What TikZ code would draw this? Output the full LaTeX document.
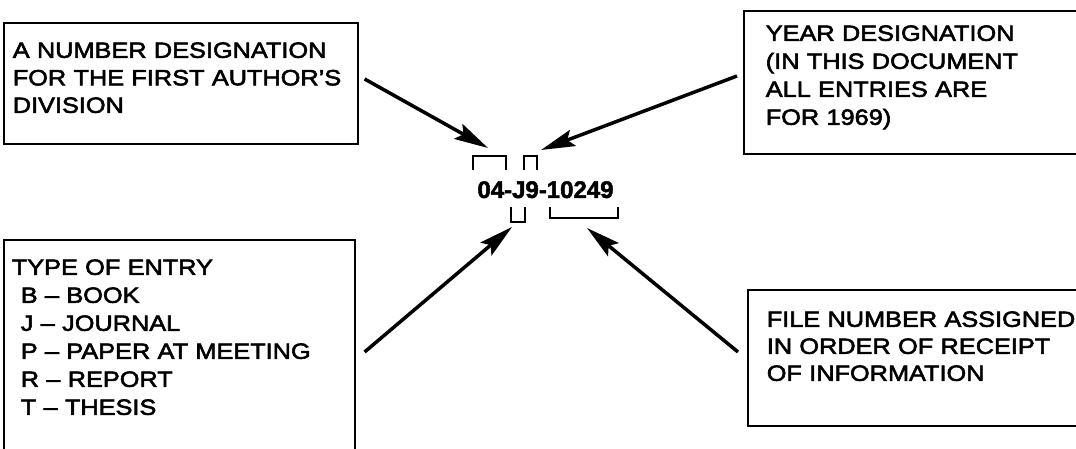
\documentclass[tikz,border=0pt]{standalone}
\usepackage{fontspec}
\setmainfont{Liberation Sans}[FakeStretch=1.15, FakeBold=2.6]
\newfontfamily\codefont{Liberation Sans}[FakeBold=2]
\usetikzlibrary{arrows.meta}

\begin{document}
\begin{tikzpicture}[
  x=1pt, y=-1pt,
  legend/.style={draw, line width=1.6pt, anchor=north west, align=left, text height=15pt, font=\fontsize{22}{28}\selectfont},
  idcode/.style={font=\codefont\bfseries\fontsize{24}{24}\selectfont, inner sep=0pt, anchor=base},
  bracket/.style={line width=1.8pt},
  pointer/.style={-{Stealth[length=34pt, width=17pt, inset=6pt]}, line width=3.5pt},
]
\useasboundingbox (0,0) rectangle (1076,449);
\clip (0,0) rectangle (1076,449);

\node[legend, inner xsep=9pt, inner ysep=20pt, text width=336pt, text depth=66pt, font=\fontsize{22}{27.5}\selectfont] (numbox) at (3,22) {A NUMBER DESIGNATION\\FOR THE FIRST AUTHOR'S\\DIVISION};
\node[legend, inner xsep=22pt, inner ysep=15pt, text width=320pt, text depth=98pt] (yearbox) at (743,10) {YEAR DESIGNATION\\(IN THIS DOCUMENT\\ALL ENTRIES ARE\\FOR 1969)};
\node[legend, inner xsep=8pt, inner ysep=20pt, text width=335pt, text depth=200pt] (typebox) at (3,239) {TYPE OF ENTRY\\
  \hspace*{9pt}B -- BOOK\\
  \hspace*{9pt}J -- JOURNAL\\
  \hspace*{9pt}P -- PAPER AT MEETING\\
  \hspace*{9pt}R -- REPORT\\
  \hspace*{9pt}T -- THESIS};
\node[legend, inner xsep=19pt, inner ysep=22pt, text width=320pt, text depth=77pt, font=\fontsize{22}{27}\selectfont] (filebox) at (747,289) {FILE NUMBER ASSIGNED\\IN ORDER OF RECEIPT\\OF INFORMATION};

\node[idcode] (code) at (545.5,198) {04-J9-10249};

\draw[bracket] (473,170) |- (506,156) -- (506,170);
\draw[bracket] (524,170) |- (537,156) -- (537,170);
\draw[bracket] (511,207) |- (525,222) -- (525,207);
\draw[bracket] (550,207) |- (618,218) -- (618,207);

\coordinate (divtip) at (488,148);
\coordinate (yeartip) at (541,150);
\coordinate (typetip) at (512,227);
\coordinate (filetip) at (587,228);

\draw[pointer] ([xshift=6pt,yshift=-57pt]numbox.north east) -- (divtip);
\draw[pointer] ([xshift=-6pt,yshift=-66pt]yearbox.north west) -- (yeartip);
\draw[pointer] ([xshift=9pt,yshift=-113pt]typebox.north east) -- (typetip);
\draw[pointer] ([xshift=-9pt,yshift=-63pt]filebox.north west) -- (filetip);
\end{tikzpicture}
\end{document}
